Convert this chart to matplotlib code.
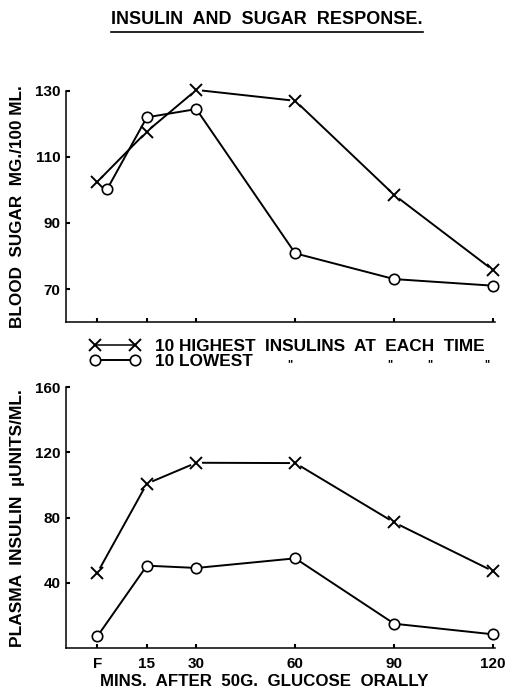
import matplotlib
matplotlib.use("Agg")
import matplotlib.pyplot as plt
from matplotlib.lines import Line2D
import numpy as np

plt.rcParams['font.family'] = ['Liberation Sans', 'DejaVu Sans']
plt.rcParams['font.weight'] = 'bold'

# minutes after glucose, F = fasting
minutes = [0, 15, 30, 60, 90, 120]
tick_labels = ['F', '15', '30', '60', '90', '120']

# blood sugar mg/100 ml
sugar_high = [102.5, 117.7, 130.3, 127.0, 98.5, 75.7]
sugar_low = [100.3, 122.0, 124.5, 80.8, 73.0, 71.0]

# plasma insulin microunits/ml
insulin_high = [46.2, 100.9, 113.7, 113.5, 77.1, 47.2]
insulin_low = [7.3, 50.6, 49.2, 55.1, 15.0, 8.5]

fig = plt.figure(figsize=(5.12, 6.94), dpi=100)
ax1 = fig.add_axes([0.129, 0.536, 0.838, 0.333])
ax2 = fig.add_axes([0.129, 0.066, 0.838, 0.376])

# circle at F is drawn just beside the X in the original
low_x = np.array(minutes, dtype=float)
low_x[0] += 3

x_style = dict(color='black', lw=1.1, marker='x', ms=9, mew=1.4, clip_on=False)
o_style = dict(color='black', lw=1.4, marker='o', ms=7.5, mfc='white', mew=1.2, clip_on=False)


def plot_x_series(ax, xs, ys):
    # line, then a white patch so the line stops short of each X, then the X
    ax.plot(xs, ys, color='black', lw=1.4, clip_on=False, zorder=2)
    ax.plot(xs, ys, 'o', ms=8, mfc='white', mec='none', clip_on=False, zorder=3)
    ax.plot(xs, ys, 'x', color='black', ms=9, mew=1.4, clip_on=False, zorder=4)


plot_x_series(ax1, minutes, sugar_high)
ax1.plot(low_x, sugar_low, zorder=5, **o_style)
plot_x_series(ax2, minutes, insulin_high)
ax2.plot(minutes, insulin_low, zorder=5, **o_style)

for ax in (ax1, ax2):
    ax.set_xlim(-9.5, 120.6)
    ax.set_xticks(minutes)
    for s in ('top', 'right'):
        ax.spines[s].set_visible(False)
    for s in ('left', 'bottom'):
        ax.spines[s].set_linewidth(1.1)
    ax.tick_params(direction='in', length=3, width=1.5, labelsize=11, pad=4)
    ax.yaxis.set_label_coords(-0.096, 0.49)

ax1.set_ylim(60, 130)
ax1.set_yticks([70, 90, 110, 130])
ax1.set_xticklabels([])
ax1.set_ylabel('BLOOD  SUGAR  MG./100 ML.', fontsize=12.3, fontweight='bold')

ax2.set_ylim(0, 160)
ax2.set_yticks([40, 80, 120, 160])
ax2.set_xticklabels(tick_labels)
ax2.tick_params(axis='x', pad=6)
ax2.set_xlabel('MINS.  AFTER  50G.  GLUCOSE  ORALLY', fontsize=12.2, fontweight='bold')
ax2.xaxis.set_label_coords(0.462, -0.097)
ax2.set_ylabel('PLASMA  INSULIN  µUNITS/ML.', fontsize=12.5, fontweight='bold')
ax2.yaxis.set_label_coords(-0.096, 0.5)

# legend between the panels
handles = [Line2D([], [], **x_style), Line2D([], [], **o_style)]
fig.legend(handles, ['10 HIGHEST  INSULINS  AT  EACH  TIME', '10 LOWEST'],
           loc='upper left', bbox_to_anchor=(0.176, 0.511), frameon=False,
           numpoints=2, handlelength=2.9, handletextpad=0.85, labelspacing=-0.02,
           borderpad=0, borderaxespad=0, prop={'size': 12.4, 'weight': 'bold'})
for xp in (0.566, 0.762, 0.840, 0.951):
    fig.text(xp, 1 - 364 / 694, '"', fontsize=8, ha='center', va='center')

title = fig.text(0.522, 1 - 20 / 694, 'INSULIN  AND  SUGAR  RESPONSE.',
                 fontsize=13, fontweight='bold', ha='center', va='center')
fig.canvas.draw()
bb = title.get_window_extent()
fig.add_artist(Line2D([bb.x0, bb.x1], [bb.y0 - 3, bb.y0 - 3], color='black', lw=1.2,
                      transform=None))

fig.savefig('out.png', dpi=100)
